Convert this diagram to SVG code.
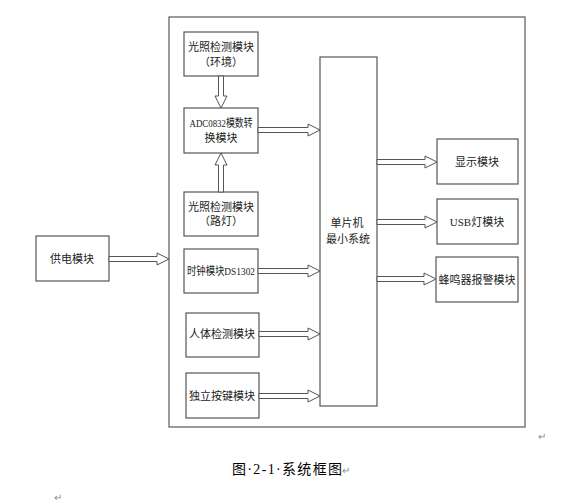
<svg xmlns="http://www.w3.org/2000/svg" width="581" height="504" viewBox="0 0 581 504">
<style>
.box{fill:#fff;stroke:#555;stroke-width:1.2}
.frame{fill:#fff;stroke:#666;stroke-width:1.3}
.arr{fill:#fff;stroke:#555;stroke-width:1}
text{font-family:"Liberation Serif","Noto Sans CJK SC",serif;font-size:11px;fill:#222;text-anchor:middle;dominant-baseline:central}
.cap{font-size:14px;fill:#000;text-anchor:start}
.mark{font-size:10px;fill:#888;text-anchor:start}
</style>
<rect width="581" height="504" fill="#fff"/>
<rect class="frame" x="169" y="17" width="356" height="410"/>
<g id="light-env"><rect class="box" x="184" y="32" width="74" height="44"/><text x="221" y="47">光照检测模块</text><text x="221" y="62">（环境）</text></g>
<g id="adc"><rect class="box" x="184" y="108" width="74" height="45"/><text x="221" y="123" textLength="63" lengthAdjust="spacingAndGlyphs">ADC0832模数转</text><text x="221" y="138">换模块</text></g>
<g id="light-road"><rect class="box" x="184" y="192" width="74" height="44"/><text x="221" y="207">光照检测模块</text><text x="221" y="221">（路灯）</text></g>
<g id="clock"><rect class="box" x="184" y="249" width="74" height="44"/><text x="221" y="271" textLength="68" lengthAdjust="spacingAndGlyphs">时钟模块DS1302</text></g>
<g id="human"><rect class="box" x="186" y="313" width="73" height="44"/><text x="222" y="334">人体检测模块</text></g>
<g id="keys"><rect class="box" x="186" y="373" width="73" height="45"/><text x="222" y="396">独立按键模块</text></g>
<g id="mcu"><rect class="box" x="320" y="57" width="57" height="349"/><text x="347" y="223">单片机</text><text x="348" y="239">最小系统</text></g>
<g id="display"><rect class="box" x="437" y="139" width="81" height="45"/><text x="477" y="162">显示模块</text></g>
<g id="usb"><rect class="box" x="437" y="199" width="81" height="45"/><text x="477" y="222">USB灯模块</text></g>
<g id="buzzer"><rect class="box" x="436" y="257" width="82" height="45"/><text x="477" y="280">蜂鸣器报警模块</text></g>
<g id="power"><rect class="box" x="36" y="236" width="73" height="45"/><text x="72" y="259">供电模块</text></g>
<g id="connectors">
<polygon class="arr" points="218.5,76 223.5,76 223.5,96 227,96 221,108 215,96 218.5,96"/>
<polygon class="arr" points="218.5,192 218.5,165 215,165 221,153 227,165 223.5,165 223.5,192"/>
<polygon class="arr" points="258,127.5 308,127.5 308,124 320,130 308,136 308,132.5 258,132.5"/>
<polygon class="arr" points="258,268.5 308,268.5 308,265 320,271 308,277 308,273.5 258,273.5"/>
<polygon class="arr" points="259,331.5 308,331.5 308,328 320,334 308,340 308,336.5 259,336.5"/>
<polygon class="arr" points="259,393.5 308,393.5 308,390 320,396 308,402 308,398.5 259,398.5"/>
<polygon class="arr" points="377,159.5 425,159.5 425,156 437,162 425,168 425,164.5 377,164.5"/>
<polygon class="arr" points="377,219.5 425,219.5 425,216 437,222 425,228 425,224.5 377,224.5"/>
<polygon class="arr" points="377,276.5 424,276.5 424,273 436,279 424,285 424,281.5 377,281.5"/>
<polygon class="arr" points="109,256.5 157,256.5 157,253 169,259 157,265 157,261.5 109,261.5"/>
</g>
<text class="mark" x="538" y="436">↵</text>
<text class="cap" x="232" y="469" textLength="110" lengthAdjust="spacing">图·2-1·系统框图</text>
<text class="mark" x="342" y="470">↵</text>
<text class="mark" x="54" y="497">↵</text>
</svg>
